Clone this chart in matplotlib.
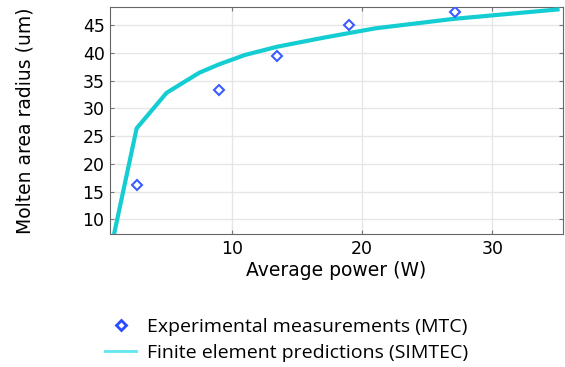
import matplotlib.pyplot as plt

# Experimental points (MTC)
power_exp = [2.7, 9.0, 13.5, 19.0, 27.1]
radius_exp = [16.2, 33.3, 39.4, 45.0, 47.4]

# Finite element curve (SIMTEC)
power_fe = [1.0, 2.7, 5.0, 7.5, 9.0, 11.0, 13.5, 17.0, 21.0, 27.0, 35.0]
radius_fe = [7.7, 26.4, 32.8, 36.4, 37.9, 39.6, 41.1, 42.7, 44.4, 46.1, 47.8]

fig = plt.figure(figsize=(5.65, 3.67), dpi=100)
ax = fig.add_axes([0.195, 0.362, 0.801, 0.619])

fe_line, = ax.plot(power_fe, radius_fe, color="#14CDD2", linewidth=3,
                   label="Finite element predictions (SIMTEC)", zorder=3)
exp_pts, = ax.plot(power_exp, radius_exp, linestyle="none", marker="D",
                   markersize=5.5, markerfacecolor="white", markeredgecolor="#3C5CFF",
                   markeredgewidth=1.5, label="Experimental measurements (MTC)", zorder=4)

ax.set_xlim(0.67, 35.4)
ax.set_ylim(7.35, 48.25)
ax.set_xticks([10, 20, 30])
ax.set_yticks([10, 15, 20, 25, 30, 35, 40, 45])
ax.grid(True, color="#E6E6E6", linewidth=1)
ax.set_axisbelow(True)
ax.tick_params(direction="in", length=3, labelsize=12.5, color="#777777",
               right=True, top=True, pad=4)
for s in ax.spines.values():
    s.set_color("#666666")

ax.set_xlabel("Average power (W)", fontsize=13.5, va="center")
ax.xaxis.set_label_coords(0.5, -0.159)
ax.set_ylabel("Molten area radius (um)", fontsize=13.5, va="center")
ax.yaxis.set_label_coords(-0.188, 0.5)

# legend below the plot
leg = fig.legend(handles=[exp_pts, fe_line], loc="upper left",
                 bbox_to_anchor=(0.169, 0.16), frameon=False,
                 prop={"family": "Open Sans", "size": 14}, handlelength=1.6,
                 handletextpad=0.55, labelspacing=0.42, borderpad=0)
leg.legend_handles[0].set_markersize(5)
leg.legend_handles[0].set_markeredgewidth(2)
leg.legend_handles[0].set_markeredgecolor("#2A4BFF")
leg.legend_handles[1].set_linewidth(2)
leg.legend_handles[1].set_color("#5FE6EE")

fig.savefig("out.png", dpi=100)
